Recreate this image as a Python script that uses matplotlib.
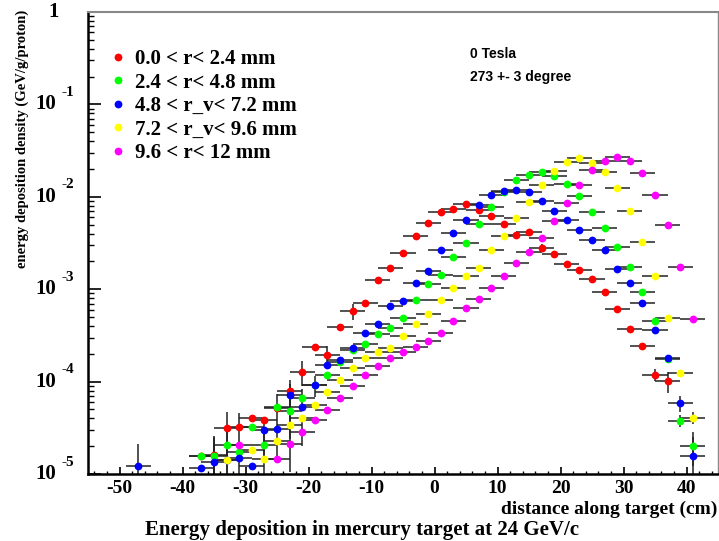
import numpy as np
import matplotlib
matplotlib.use("Agg")
import matplotlib.pyplot as plt
from matplotlib.transforms import blended_transform_factory, ScaledTranslation
from matplotlib.lines import Line2D

# ---------------- data ----------------
x_pos = list(range(-47, 45, 2))   # bin centres (cm), bin half-width 2 cm
x_halfwidth = 2.0

N = None
# values per bin, None = no point
red = [N, N, N, N, N, 1.57e-5, 1.61e-5, 3.15e-5, 3.23e-5, 4.04e-5, 3.84e-5, 5.18e-5,
       7.91e-5, 1.27e-4, 2.37e-4, 1.94e-4, 3.90e-4, 5.81e-4, 7.10e-4, 1.26e-3, 1.69e-3,
       2.47e-3, 3.77e-3, 5.20e-3, 6.79e-3, 7.38e-3, 8.36e-3, 7.14e-3, 6.19e-3, 5.04e-3,
       3.89e-3, 4.13e-3, 2.79e-3, 2.39e-3, 1.89e-3, 1.61e-3, 1.30e-3, 9.33e-4, 6.05e-4,
       3.68e-4, 2.43e-4, 1.19e-4, 1.01e-4, N, N, N]
green = [N, N, N, N, N, 1.57e-5, 1.58e-5, 2.06e-5, 1.72e-5, 3.25e-5, 2.06e-5, 5.27e-5,
         4.81e-5, 6.65e-5, 9.18e-5, 1.18e-4, 1.63e-4, 2.20e-4, 2.54e-4, 3.30e-4, 3.83e-4,
         4.84e-4, 7.69e-4, 1.13e-3, 1.43e-3, 2.23e-3, 3.16e-3, 5.12e-3, 7.69e-3, 1.12e-2,
         1.51e-2, 1.73e-2, 1.84e-2, 1.68e-2, 1.36e-2, 1.03e-2, 6.90e-3, 4.63e-3, 2.88e-3,
         1.75e-3, 9.33e-4, 4.53e-4, 1.74e-4, 3.78e-5, 2.02e-5, N]
blue = [1.22e-5, N, N, N, N, 1.15e-5, 1.36e-5, 1.42e-5, 1.49e-5, 1.23e-5, 2.97e-5, 3.09e-5,
        7.16e-5, 5.35e-5, 9.18e-5, 1.51e-4, 1.71e-4, 2.33e-4, 3.33e-4, 4.17e-4, 6.62e-4,
        7.51e-4, 1.16e-3, 1.58e-3, 2.65e-3, 4.03e-3, 5.57e-3, 8.09e-3, 1.04e-2, 1.15e-2,
        1.17e-2, 1.13e-2, 8.93e-3, 7.08e-3, 5.61e-3, 4.34e-3, 3.38e-3, 2.65e-3, 1.66e-3,
        1.18e-3, 7.03e-4, 3.59e-4, 1.82e-4, 5.82e-5, 1.57e-5, N]
yellow = [N, N, N, N, N, N, N, 1.41e-5, N, 1.83e-5, 1.44e-5, 2.26e-5,
          3.39e-5, 4.04e-5, 5.58e-5, 7.71e-5, 1.04e-4, 1.40e-4, 1.80e-4, 2.09e-4, 2.29e-4,
          3.14e-4, 4.17e-4, 5.39e-4, 7.69e-4, 1.03e-3, 1.38e-3, 1.69e-3, 2.64e-3, 3.74e-3,
          5.94e-3, 8.73e-3, 1.34e-2, 1.89e-2, 2.40e-2, 2.61e-2, 2.34e-2, 1.85e-2, 1.24e-2,
          6.97e-3, 3.22e-3, 1.39e-3, 4.92e-4, 1.24e-4, 4.06e-5, N]
magenta = [N, N, N, N, N, N, N, N, 2.05e-5, N, N, 1.45e-5,
           2.11e-5, 2.85e-5, 3.84e-5, 4.93e-5, 6.65e-5, 8.95e-5, 1.18e-4, 1.48e-4, 1.80e-4,
           2.09e-4, 2.37e-4, 2.77e-4, 3.33e-4, 4.56e-4, 6.21e-4, 7.83e-4, 1.03e-3, 1.40e-3,
           1.94e-3, 2.51e-3, 3.61e-3, 5.47e-3, 8.57e-3, 1.33e-2, 1.95e-2, 2.46e-2, 2.72e-2,
           2.42e-2, 1.81e-2, 1.05e-2, 4.99e-3, 1.75e-3, 4.80e-4, N]

# relative vertical errors for points where a bar is visible (default small)
default_rel_err = 0.04
big_errors = {
    "blue": {-47: 0.75, -35: 0.7, -33: 0.5, -31: 0.5, -27: 0.35, -23: 0.3, -19: 0.25, 39: 0.2, 41: 0.6},
    "red": {-35: 0.6, -33: 0.5, -31: 0.4, -25: 0.4, -23: 0.3, -21: 0.3, -17: 0.25, -13: 0.2, 17: 0.1, 35: 0.15, 37: 0.25, 39: 0.3},
    "green": {-35: 0.6, -33: 0.5, -27: 0.3, -23: 0.3, -21: 0.25, 39: 0.15, 41: 0.4, 43: 0.6},
    "yellow": {-31: 0.5, -27: 0.5, -25: 0.4, -23: 0.3, 41: 0.15, 43: 0.3},
    "magenta": {-29: 0.5, -23: 0.5, -21: 0.3},
}

series_names = ["red", "green", "blue", "yellow", "magenta"]
series_values = [red, green, blue, yellow, magenta]
series_colors = ["#ff0000", "#00ff00", "#0000ff", "#ffff00", "#ff00ff"]
legend_labels = ["0.0 < r< 2.4 mm", "2.4 < r< 4.8 mm", "4.8 < r_v< 7.2 mm",
                 "7.2 < r_v< 9.6 mm", "9.6 < r< 12 mm"]

x_ticks = [-50, -40, -30, -20, -10, 0, 10, 20, 30, 40]
y_tick_vals = [1e-5, 1e-4, 1e-3, 1e-2, 1e-1]
y_tick_exps = ["-5", "-4", "-3", "-2", "-1"]

# ---------------- figure ----------------
W, H = 719, 541
fig = plt.figure(figsize=(W / 100, H / 100), dpi=100)
ax = fig.add_axes([88 / W, 67 / H, (718 - 88) / W, (474 - 12) / H])

serif = ["Liberation Serif", "DejaVu Serif"]
sans = ["Liberation Sans", "DejaVu Sans"]

for name, vals, col in zip(series_names, series_values, series_colors):
    xs, ys, errs = [], [], []
    for xv, yv in zip(x_pos, vals):
        if yv is None:
            continue
        xs.append(xv)
        ys.append(yv)
        errs.append(big_errors[name].get(xv, default_rel_err) * yv)
    xs = np.array(xs, float)
    ys = np.array(ys, float)
    errs = np.array(errs, float)
    lower = np.minimum(errs, ys * 0.999)
    ax.errorbar(xs, ys, xerr=x_halfwidth, yerr=[lower, errs], fmt="none",
                ecolor="#222222", elinewidth=1.1, capsize=0, zorder=2)
    ax.plot(xs, ys, "o", color=col, markersize=5.6, markeredgewidth=0, zorder=3)

ax.set_yscale("log")
ax.set_xlim(-55, 45)
ax.set_ylim(1e-5, 1)

ax.set_xticks(x_ticks)
ax.set_xticks(np.arange(-54, 46, 2), minor=True)
ax.set_xticklabels([str(t) for t in x_ticks], fontfamily=serif, fontweight="bold", fontsize=14)
ax.tick_params(axis="x", which="major", direction="in", length=5, width=1.2, pad=4)
ax.tick_params(axis="x", which="minor", direction="in", length=2.5, width=1.0)
ax.tick_params(axis="y", which="major", direction="in", length=9, width=1.2, labelleft=False)
ax.tick_params(axis="y", which="minor", direction="in", length=4.5, width=1.0, labelleft=False)
ax.yaxis.set_minor_locator(matplotlib.ticker.LogLocator(base=10, subs=np.arange(2, 10)))
ax.yaxis.set_minor_formatter(matplotlib.ticker.NullFormatter())
ax.yaxis.set_major_formatter(matplotlib.ticker.NullFormatter())

for s in ["left", "bottom"]:
    ax.spines[s].set_linewidth(1.8)
    ax.spines[s].set_color("black")
ax.spines["top"].set_linewidth(1.5)
ax.spines["top"].set_color("#888888")
ax.spines["right"].set_linewidth(1.0)
ax.spines["right"].set_color("#888888")

# ROOT-style y tick labels
trans = blended_transform_factory(fig.transFigure, ax.transData)
up = ScaledTranslation(0, 12 / 100, fig.dpi_scale_trans)
for v, e in zip(y_tick_vals, y_tick_exps):
    ax.text(56 / W, v, "10", transform=trans, ha="right", va="center",
            fontfamily=serif, fontweight="bold", fontsize=15, clip_on=False)
    ax.text(62 / W, v, e, transform=trans + up, ha="left", va="center",
            fontfamily=serif, fontweight="bold", fontsize=11, clip_on=False)
ax.text(54 / W, 1, "1", transform=trans, ha="center", va="center",
        fontfamily=serif, fontweight="bold", fontsize=15, clip_on=False)

# axis titles
fig.text(22 / W, 1 - 10 / H, "energy deposition density (GeV/g/proton)", rotation=90,
         ha="center", va="top", fontfamily=serif, fontweight="bold", fontsize=10.5)
fig.text(717 / W, 1 - 509 / H, "distance along target (cm)", ha="right", va="center",
         fontfamily=serif, fontweight="bold", fontsize=14)
fig.text(362 / W, 1 - 530 / H, "Energy deposition in mercury target at 24 GeV/c",
         ha="center", va="center", fontfamily=serif, fontweight="bold", fontsize=15)

# annotations
fig.text(470 / W, 1 - 54 / H, "0 Tesla", ha="left", va="center",
         fontfamily=sans, fontweight="bold", fontsize=10)
fig.text(470 / W, 1 - 77 / H, "273 +- 3 degree", ha="left", va="center",
         fontfamily=sans, fontweight="bold", fontsize=10)

# legend
handles = [Line2D([], [], marker="o", linestyle="none", color=c, markersize=5.6,
                  markeredgewidth=0) for c in series_colors]
leg = ax.legend(handles, legend_labels, loc="upper left",
                bbox_to_anchor=(112 / W, 1 - 49 / H), bbox_transform=fig.transFigure,
                frameon=False, handlelength=0.6, handletextpad=0.5, labelspacing=0.17,
                borderpad=0, borderaxespad=0,
                prop={"family": serif, "weight": "bold", "size": 15})

fig.savefig("out.png", dpi=100)
